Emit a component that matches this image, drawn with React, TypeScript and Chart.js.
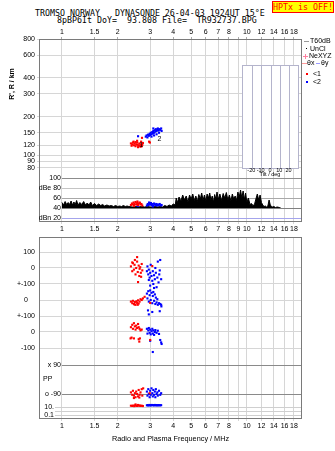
import React, { useEffect, useRef } from 'react';
import { Chart, registerables } from 'chart.js';

Chart.register(...registerables);

const SANS = "'Liberation Sans', Arial, sans-serif";
const MONO = "'DejaVu Sans Mono', monospace";

const titleLine1 = 'TROMSO NORWAY   DYNASONDE 26-04-03 1924UT 15°E';
const titleLine2 = '8pBP6It DoY=  93.808 File=  TR932737.BPG';
const statusText = 'HPTx is OFF!';

// ---------- frequency axis (MHz, log) ----------
const freqMin = 0.751;
const freqMax = 19.89;
const freqTicks = [1, 1.5, 2, 3, 4, 5, 6, 7, 8, 9, 10, 12, 14, 16, 18];
const freqLabelsTop = ['1', '1.5', '2', '3', '4', '5', '6', '7', '8', '', '10', '12', '14', '16', '18'];
const freqLabelsMid = ['1', '1.5', '2', '3', '4', '5', '6', '7', '8', '9', '10', '12', '14', '16', '18'];
const freqLabelsBottom = ['1', '1.5', '2', '3', '4', '5', '6', '7', '8', '', '10', '12', '14', '16', '18'];

// ---------- range axis (km, log) ----------
const rangeTicks = [80, 90, 100, 120, 150, 200, 300, 400, 600, 800];
const rangeMin = 30.5;
const rangeMax = 800;

// ---------- amplitude axis (dB) ----------
const dbTicks = [100, 80, 60, 40, 20];
const dbLabels = ['100', 'dBe 80', '60', '40', 'dBn 20'];
const dbLineColors = ['#8c8c8c', '#c4c4c4', '#a8a8a8', '#808080', '#a4a4ec'];
const dbMin = 12;
const dbMax = 378;

// ---------- tilt inset ----------
const insetFreq = [9.42, 18.9];
const insetRange = [80, 503];
const tiltTicks = [-20, -10, 0, 10, 20];
const tiltLabels = ['-20', '-10', '0', '10', '20'];
const tiltMin = -30;
const tiltMax = 30;

// ---------- trace <1 (red) ----------
const t1Freq = [2.36, 2.38, 2.40, 2.42, 2.44, 2.45, 2.47, 2.50, 2.50, 2.52, 2.55, 2.55, 2.57, 2.58, 2.60, 2.62, 2.65, 2.66, 2.67, 2.68, 2.70, 2.71, 2.72, 2.74, 2.96, 2.99];
const t1Range = [124, 119, 122, 126, 128, 120, 124, 118, 127, 122, 126, 130, 121, 116, 119, 124, 120, 117, 122, 128, 118, 137, 121, 125, 128, 126];
// ---------- trace <2 (blue) ----------
const t2Freq = [2.58, 2.84, 2.87, 2.90, 2.92, 2.95, 2.98, 3.00, 3.02, 3.05, 3.05, 3.08, 3.10, 3.12, 3.12, 3.15, 3.15, 3.18, 3.20, 3.22, 3.25, 3.25, 3.28, 3.30, 3.33, 3.35, 3.36, 3.40, 3.44, 3.46];
const t2Range = [141, 140, 143, 138, 145, 142, 147, 144, 150, 146, 140, 152, 148, 155, 162, 150, 143, 157, 153, 160, 155, 146, 158, 162, 156, 150, 160, 158, 162, 155];

// ---------- echo amplitudes ----------
const t1AmpFreq = [2.36, 2.39, 2.42, 2.44, 2.45, 2.47, 2.50, 2.52, 2.55, 2.56, 2.58, 2.60, 2.63, 2.64, 2.66, 2.69, 2.72];
const t1Amp = [46, 49, 47, 51, 44, 48, 52, 47, 50, 53, 46, 49, 51, 50, 47, 48, 45];
const t2AmpFreq = [2.57, 2.88, 2.91, 2.94, 2.96, 2.97, 3.00, 3.03, 3.06, 3.09, 3.10, 3.12, 3.15, 3.18, 3.21, 3.24, 3.27, 3.30, 3.34, 3.38, 3.42, 3.46];
const t2Amp = [44, 45, 48, 46, 51, 49, 47, 50, 46, 48, 43, 45, 49, 47, 46, 48, 45, 47, 46, 48, 45, 46];

// ---------- noise level ----------
const noiseFreq = [
  1.00, 1.02, 1.04, 1.06, 1.08, 1.10, 1.12, 1.14, 1.16, 1.18, 1.20, 1.22,
  1.25, 1.28, 1.31, 1.34, 1.37, 1.40, 1.43, 1.46,
  1.50, 1.54, 1.58, 1.62, 1.66,
  1.70, 1.75, 1.80, 1.85, 1.90, 1.95, 2.00, 2.05, 2.10, 2.15, 2.20, 2.25, 2.30,
  2.40, 2.50, 2.60, 2.70, 2.80, 2.90, 3.00, 3.10, 3.20, 3.30, 3.40, 3.50,
  3.60, 3.70, 3.80, 3.90, 4.00, 4.10,
  4.15, 4.20,
  4.30, 4.40, 4.50, 4.60, 4.70, 4.80, 4.90, 5.00, 5.10, 5.20, 5.30, 5.40, 5.50, 5.60, 5.70, 5.80, 5.90, 6.00, 6.10, 6.20, 6.30, 6.40, 6.50, 6.60, 6.70, 6.80, 6.90, 7.00,
  7.15, 7.30, 7.45, 7.60, 7.75, 7.90, 8.05, 8.20, 8.35, 8.50, 8.65, 8.80, 8.95, 9.10, 9.25, 9.40, 9.55, 9.70, 9.85,
  10.0, 10.2, 10.4, 10.6, 10.8, 11.0, 11.2, 11.4, 11.6, 11.8, 12.0, 12.2, 12.4, 12.6, 12.8, 13.0, 13.2, 13.4, 13.6, 13.8,
  14.0, 14.3, 14.6, 15.0, 15.2,
];
const noiseDb = [
  51, 46, 53, 47, 51, 47, 54, 46, 52, 47, 55, 46,
  51, 47, 53, 46, 50, 46, 52, 45,
  49, 45, 48, 45, 47,
  44, 46, 44, 45, 43, 45, 43, 44, 43, 45, 43, 44, 43,
  42, 43, 42, 43, 42, 43, 42, 42, 43, 42, 43, 42,
  45, 43, 46, 44, 48, 46,
  60, 50,
  62, 54, 66, 56, 64, 52, 66, 58, 68, 55, 64, 53, 67, 58, 70, 56, 66, 54, 68, 60, 70, 56, 64, 52, 67, 58, 72, 57,
  68, 55, 69, 60, 71, 56, 66, 54, 68, 58, 64, 55, 72, 62, 76, 60, 74, 57, 70,
  52, 60, 47, 49, 45, 47, 58, 68, 56, 66, 51, 46, 43, 44, 42, 44, 56, 46, 43, 42,
  43, 41, 42, 41, 41,
];
const noiseFloor = 40;

// ---------- lower panel axes ----------
const vMin = -943.75, vMax = 193.75;
const vTicks = [100, 0];
const vLabels = ['100', '0'];
const ylMin = -743.75, ylMax = 393.75;
const ylTicks = [100, 0, -100];
const ylLabels = ['+-100', '0', '+-100'];
const ylLabelX = [35, 28, 35];
const xlMin = -543.75, xlMax = 593.75;
const xlTicks = [0, -100];
const xlLabels = ['0', '-100'];
const ppMin = -245.2, ppMax = 884.5;
const ppTicks = [90, -90];
const ppLabels = ['x 90', 'o -90'];
const epMin = 0.01501, epMax = 1e41;
const epTicks = [10, 1, 0.1];
const epLabels = ['10.', '', '0.1'];

// ---------- V* (m/s) ----------
const v1Freq = [2.36, 2.40, 2.40, 2.42, 2.45, 2.47, 2.48, 2.50, 2.52, 2.55, 2.55, 2.57, 2.58, 2.60, 2.62, 2.63, 2.65, 2.67, 2.68, 2.70, 2.72, 3.08];
const v1Val = [10, -20, 35, 30, -10, 20, 50, -40, 0, 40, 68, -25, -88, 15, -50, -5, 5, -30, -55, 25, -15, 12];
const v2Freq = [2.88, 2.90, 2.93, 2.95, 2.95, 2.98, 3.00, 3.00, 3.02, 3.05, 3.08, 3.10, 3.12, 3.15, 3.15, 3.18, 3.20, 3.22, 3.25, 3.28, 3.30, 3.33, 3.36, 3.38, 3.40, 3.44];
const v2Val = [-20, 10, -40, -10, -75, -60, -30, -110, 20, -50, -80, -20, -100, -45, -125, -70, 0, -30, -120, -60, 40, -90, -40, -15, 50, -70];

// ---------- YL (km) ----------
const yl1Freq = [2.36, 2.40, 2.42, 2.45, 2.47, 2.48, 2.50, 2.53, 2.55, 2.57, 2.58, 2.60, 2.63, 2.66, 2.70, 2.74, 2.80, 3.00];
const yl1Val = [-10, -20, -5, -25, -28, -12, -30, -8, -18, -30, -2, -22, -10, 5, 0, 10, 20, -18];
const yl2Freq = [2.88, 2.90, 2.92, 2.93, 2.95, 2.95, 2.98, 3.00, 3.02, 3.05, 3.08, 3.08, 3.10, 3.12, 3.15, 3.18, 3.20, 3.22, 3.25, 3.28, 3.30, 3.35, 3.38, 3.40, 3.44, 3.45];
const yl2Val = [40, 10, -65, 55, -10, -90, 30, 60, 0, 45, -20, -75, 25, 50, -5, 35, -25, 15, -15, 5, -30, -20, -70, -25, -30, -40];

// ---------- XL (km) ----------
const xl1Freq = [2.35, 2.36, 2.38, 2.40, 2.42, 2.45, 2.45, 2.48, 2.50, 2.52, 2.55, 2.58, 2.60, 2.60, 2.62, 2.63, 2.64, 2.66, 2.70, 3.00];
const xl1Val = [-40, 30, -35, 45, 20, 55, -40, 35, 15, 40, 25, 50, 30, -45, -60, 20, -40, 10, 15, -50];
const xl2Freq = [2.88, 2.90, 2.93, 2.95, 2.98, 3.00, 3.00, 3.02, 3.05, 3.08, 3.10, 3.10, 3.12, 3.15, 3.18, 3.20, 3.25, 3.30, 3.35, 3.40, 3.44, 3.46];
const xl2Val = [20, -10, 10, 25, -5, 15, -55, -15, 5, 20, -10, -125, 10, -18, 0, 12, -5, 8, -12, -50, -65, -75];

// ---------- PP (deg) ----------
const pp1Freq = [2.36, 2.40, 2.42, 2.45, 2.45, 2.48, 2.50, 2.52, 2.55, 2.58, 2.60, 2.62, 2.63, 2.66, 2.70, 2.72, 2.75, 2.98];
const pp1Val = [-80, -95, -70, -100, -115, -85, -110, -75, -90, -105, -65, -112, -95, -80, -60, -100, -55, -85];
const pp2Freq = [2.88, 2.90, 2.93, 2.95, 2.98, 3.00, 3.02, 3.05, 3.08, 3.10, 3.12, 3.15, 3.18, 3.20, 3.22, 3.25, 3.28, 3.30, 3.35, 3.40, 3.44];
const pp2Val = [-75, -100, -60, -90, -110, -70, -95, -55, -85, -105, -65, -95, -75, -110, -60, -90, -80, -100, -70, -95, -85];

// ---------- EP (deg) ----------
const ep1Freq = [2.36, 2.40, 2.43, 2.46, 2.49, 2.50, 2.52, 2.55, 2.58, 2.61, 2.64, 2.67, 2.70, 2.74];
const ep1Val = [20, 18, 22, 16, 25, 40, 20, 18, 30, 20, 22, 18, 20, 17];
const ep2Freq = [2.88, 2.91, 2.94, 2.97, 3.00, 3.03, 3.06, 3.09, 3.12, 3.15, 3.18, 3.21, 3.24, 3.27, 3.30, 3.33, 3.36, 3.40, 3.44];
const ep2Val = [25, 28, 22, 30, 26, 24, 30, 28, 25, 26, 30, 24, 28, 26, 25, 28, 26, 25, 27];

const RED = '#ff0000';
const BLUE = '#0000ff';
const GRID = '#d6d6d6';
const FRAME = '#7a7a7a';

const pts = (xs: number[], ys: number[]) => xs.map((x, i) => ({ x, y: ys[i] }));

const dots = (xs: number[], ys: number[], color: string, yAxisID: string) => ({
  type: 'scatter',
  data: pts(xs, ys),
  xAxisID: 'x',
  yAxisID,
  backgroundColor: color,
  borderColor: color,
  borderWidth: 0,
  pointStyle: 'rect',
  pointRadius: 1.5,
  showLine: false,
  order: 1,
});

const tickFont = { family: SANS, size: 7 };

const freqAxis = (position: string, labels: string[], h: number, onArea: boolean) => ({
  type: 'logarithmic',
  position,
  min: freqMin,
  max: freqMax,
  afterBuildTicks: (s: any) => {
    s.ticks = freqTicks.map((v) => ({ value: v }));
  },
  afterFit: (s: any) => {
    s.height = h;
  },
  grid: { drawOnChartArea: onArea, drawTicks: true, tickLength: 2, color: onArea ? GRID : '#aaaaaa' },
  border: { display: false },
  ticks: {
    autoSkip: false,
    maxRotation: 0,
    minRotation: 0,
    padding: 1,
    color: '#000',
    font: tickFont,
    callback: (_v: any, i: number) => labels[i],
  },
});

function hline(ctx: any, x0: number, x1: number, y: number) {
  ctx.beginPath();
  ctx.moveTo(x0, y);
  ctx.lineTo(x1, y);
  ctx.stroke();
}
function vline(ctx: any, x: number, y0: number, y1: number) {
  ctx.beginPath();
  ctx.moveTo(x, y0);
  ctx.lineTo(x, y1);
  ctx.stroke();
}
function vtext(ctx: any, text: string, x: number, y: number, font: string) {
  ctx.save();
  ctx.translate(x, y);
  ctx.rotate(-Math.PI / 2);
  ctx.font = font;
  ctx.textAlign = 'center';
  ctx.textBaseline = 'middle';
  ctx.fillStyle = '#000';
  ctx.fillText(text, 0, 0);
  ctx.restore();
}
function frame(ctx: any, a: any) {
  ctx.save();
  ctx.strokeStyle = FRAME;
  ctx.lineWidth = 1;
  ctx.strokeRect(a.left + 0.5, a.top + 0.5, a.right - a.left - 1, a.bottom - a.top - 1);
  ctx.restore();
}

const upperDecor = {
  id: 'upperDecor',
  beforeDatasetsDraw(chart: any) {
    const { ctx, chartArea: a, scales } = chart;
    const sx = scales.x;
    const sr = scales.yR;
    const sd = scales.yD;
    ctx.save();
    ctx.lineWidth = 1;
    const x1 = sx.getPixelForValue(1);
    dbTicks.forEach((v, i) => {
      const y = Math.round(sd.getPixelForValue(v)) + 0.5;
      ctx.strokeStyle = dbLineColors[i];
      hline(ctx, x1, a.right, y);
    });
    // tilt inset
    const bx0 = Math.round(sx.getPixelForValue(insetFreq[0])) + 0.5;
    const bx1 = Math.round(sx.getPixelForValue(insetFreq[1])) + 0.5;
    const by0 = Math.round(sr.getPixelForValue(insetRange[1])) + 0.5;
    const by1 = Math.round(sr.getPixelForValue(insetRange[0])) + 0.5;
    ctx.fillStyle = '#fff';
    ctx.fillRect(bx0, by0, bx1 - bx0, by1 - by0);
    ctx.strokeStyle = '#b4b4cc';
    ctx.strokeRect(bx0, by0, bx1 - bx0, by1 - by0);
    const tp = (t: number) => bx0 + ((t - tiltMin) / (tiltMax - tiltMin)) * (bx1 - bx0);
    tiltTicks.forEach((t) => vline(ctx, Math.round(tp(t)) + 0.5, by0, by1));
    ctx.restore();
  },
  afterDraw(chart: any) {
    const { ctx, chartArea: a, scales } = chart;
    const sx = scales.x;
    const sr = scales.yR;
    const sd = scales.yD;
    frame(ctx, a);
    ctx.save();
    ctx.fillStyle = '#000';
    ctx.font = `7px ${SANS}`;
    ctx.textBaseline = 'middle';
    // dB labels inside the frame
    const x1 = sx.getPixelForValue(1);
    ctx.textAlign = 'right';
    dbTicks.forEach((v, i) => {
      ctx.fillText(dbLabels[i], x1 - 1, sd.getPixelForValue(v));
    });
    // tilt inset labels
    const bx0 = sx.getPixelForValue(insetFreq[0]);
    const bx1 = sx.getPixelForValue(insetFreq[1]);
    const by1 = sr.getPixelForValue(insetRange[0]);
    const tp = (t: number) => bx0 + ((t - tiltMin) / (tiltMax - tiltMin)) * (bx1 - bx0);
    ctx.font = `5.5px ${SANS}`;
    ctx.textAlign = 'center';
    tiltTicks.forEach((t, i) => ctx.fillText(tiltLabels[i], tp(t), by1 + 3));
    ctx.fillText('Tilt / deg', (bx0 + bx1) / 2, by1 + 7);
    // trace labels
    ctx.font = `7px ${SANS}`;
    ctx.fillText('1', sx.getPixelForValue(2.68), sr.getPixelForValue(120.5));
    ctx.fillText('2', sx.getPixelForValue(3.37), sr.getPixelForValue(134));
    // legend
    const lx = a.right;
    ctx.textAlign = 'left';
    ctx.lineWidth = 1;
    ctx.strokeStyle = '#999';
    hline(ctx, lx + 2, lx + 7, 41.5);
    ctx.fillText('T60dB', lx + 8, 41);
    ctx.fillRect(lx + 4, 48, 1, 1);
    ctx.fillText('UnCl', lx + 8, 49);
    ctx.strokeStyle = '#ff80a0';
    hline(ctx, lx + 1, lx + 6, 56.5);
    vline(ctx, lx + 3.5, 54, 59);
    ctx.fillText('NeXYZ', lx + 7, 56);
    ctx.strokeStyle = '#ff9a9a';
    hline(ctx, lx, lx + 5, 63.5);
    ctx.fillText('θx', lx + 5, 63);
    ctx.strokeStyle = '#9a9aff';
    hline(ctx, lx + 14, lx + 18, 63.5);
    ctx.fillText('θy', lx + 19, 63);
    ctx.fillStyle = RED;
    ctx.fillRect(lx + 4, 73, 2, 2);
    ctx.fillStyle = BLUE;
    ctx.fillRect(lx + 4, 81, 2, 2);
    ctx.fillStyle = '#000';
    ctx.fillText('<1', lx + 11, 74.5);
    ctx.fillText('<2', lx + 11, 82);
    ctx.restore();
    vtext(ctx, "R', R / km", 12.5, 84, `bold 7px ${SANS}`);
  },
};

const lowerDecor = {
  id: 'lowerDecor',
  beforeDatasetsDraw(chart: any) {
    const { ctx, chartArea: a, scales } = chart;
    ctx.save();
    ctx.lineWidth = 1;
    const x1 = scales.x.getPixelForValue(1);
    ctx.strokeStyle = '#8a8a8a';
    ppTicks.forEach((v) => hline(ctx, x1, a.right, Math.round(scales.yPP.getPixelForValue(v)) + 0.5));
    ctx.strokeStyle = '#cfcfcf';
    epTicks.forEach((v) => hline(ctx, a.left + 16, a.right, Math.round(scales.yEP.getPixelForValue(v)) + 0.5));
    ctx.restore();
  },
  afterDraw(chart: any) {
    const { ctx, chartArea: a, scales } = chart;
    frame(ctx, a);
    ctx.save();
    ctx.fillStyle = '#000';
    ctx.font = `7px ${SANS}`;
    ctx.textBaseline = 'middle';
    ctx.textAlign = 'right';
    vTicks.forEach((v, i) => ctx.fillText(vLabels[i], a.left - 4, scales.yV.getPixelForValue(v)));
    ylTicks.forEach((v, i) => ctx.fillText(ylLabels[i], ylLabelX[i], scales.yYL.getPixelForValue(v)));
    xlTicks.forEach((v, i) => ctx.fillText(xlLabels[i], a.left - 4, scales.yXL.getPixelForValue(v)));
    const x1 = scales.x.getPixelForValue(1);
    ppTicks.forEach((v, i) => ctx.fillText(ppLabels[i], x1 - 1, scales.yPP.getPixelForValue(v)));
    epTicks.forEach((v, i) => ctx.fillText(epLabels[i], a.left + 15, scales.yEP.getPixelForValue(v)));
    ctx.textAlign = 'left';
    ctx.fillText('PP', a.left + 4, scales.yPP.getPixelForValue(0));
    ctx.textAlign = 'center';
    ctx.font = `7.3px ${SANS}`;
    ctx.fillText('Radio and Plasma Frequency / MHz', (a.left + a.right) / 2, a.bottom + 20);
    ctx.restore();
    // rotated axis titles
    ctx.save();
    ctx.translate(12.5, 277);
    ctx.rotate(-Math.PI / 2);
    ctx.fillStyle = '#000';
    ctx.textBaseline = 'middle';
    ctx.textAlign = 'left';
    ctx.font = `bold 7px ${SANS}`;
    ctx.fillText('V*', 0, 0);
    const w = ctx.measureText('V*').width;
    ctx.font = `6px ${SANS}`;
    ctx.fillText('m/s', w + 4, 0);
    ctx.restore();
    vtext(ctx, 'YL', 13, 299, `bold 7px ${SANS}`);
    vtext(ctx, 'km', 9.5, 315, `6px ${SANS}`);
    vtext(ctx, 'XL', 9.5, 333, `bold 7px ${SANS}`);
    vtext(ctx, 'EP / deg', 15, 398, `6.5px ${SANS}`);
  },
};

function upperConfig(): any {
  return {
    type: 'scatter',
    data: {
      datasets: [
        dots(t1Freq, t1Range, RED, 'yR'),
        dots(t2Freq, t2Range, BLUE, 'yR'),
        dots(t1AmpFreq, t1Amp, RED, 'yD'),
        dots(t2AmpFreq, t2Amp, BLUE, 'yD'),
        {
          type: 'scatter',
          data: pts(noiseFreq, noiseDb),
          xAxisID: 'x',
          yAxisID: 'yD',
          showLine: true,
          borderColor: '#000',
          borderWidth: 1,
          backgroundColor: '#000',
          pointRadius: 0,
          fill: { value: noiseFloor },
          tension: 0,
          order: 10,
        },
      ],
    },
    options: {
      animation: false,
      responsive: false,
      devicePixelRatio: 1,
      events: [],
      layout: { padding: { left: 0, right: 33, top: 0, bottom: 0 } },
      plugins: { legend: { display: false }, tooltip: { enabled: false } },
      scales: {
        xTop: freqAxis('top', freqLabelsTop, 39, false),
        x: freqAxis('bottom', freqLabelsMid, 14, true),
        yR: {
          type: 'logarithmic',
          position: 'left',
          min: rangeMin,
          max: rangeMax,
          afterBuildTicks: (s: any) => {
            s.ticks = rangeTicks.map((v) => ({ value: v }));
          },
          afterFit: (s: any) => {
            s.width = 39;
          },
          grid: { color: GRID, drawTicks: true, tickLength: 2 },
          border: { display: false },
          ticks: {
            autoSkip: false,
            padding: 2,
            color: '#000',
            font: tickFont,
            callback: (v: any) => String(v),
          },
        },
        yD: { type: 'linear', display: false, min: dbMin, max: dbMax },
      },
    },
    plugins: [upperDecor],
  };
}

const linAxis = (min: number, max: number, ticks: number[], w: number) => ({
  type: 'linear',
  position: 'left',
  min,
  max,
  afterBuildTicks: (s: any) => {
    s.ticks = ticks.map((v) => ({ value: v }));
  },
  afterFit: (s: any) => {
    s.width = w;
  },
  grid: { color: GRID, drawTicks: false },
  border: { display: false },
  ticks: { display: false },
});

function lowerConfig(): any {
  return {
    type: 'scatter',
    data: {
      datasets: [
        dots(v1Freq, v1Val, RED, 'yV'),
        dots(v2Freq, v2Val, BLUE, 'yV'),
        dots(yl1Freq, yl1Val, RED, 'yYL'),
        dots(yl2Freq, yl2Val, BLUE, 'yYL'),
        dots(xl1Freq, xl1Val, RED, 'yXL'),
        dots(xl2Freq, xl2Val, BLUE, 'yXL'),
        dots(pp1Freq, pp1Val, RED, 'yPP'),
        dots(pp2Freq, pp2Val, BLUE, 'yPP'),
        dots(ep1Freq, ep1Val, RED, 'yEP'),
        dots(ep2Freq, ep2Val, BLUE, 'yEP'),
      ],
    },
    options: {
      animation: false,
      responsive: false,
      devicePixelRatio: 1,
      events: [],
      layout: { padding: { left: 0, right: 33, top: 5, bottom: 0 } },
      plugins: { legend: { display: false }, tooltip: { enabled: false } },
      scales: {
        x: freqAxis('bottom', freqLabelsBottom, 32, true),
        yV: linAxis(vMin, vMax, vTicks, 39),
        yYL: linAxis(ylMin, ylMax, ylTicks, 0),
        yXL: linAxis(xlMin, xlMax, xlTicks, 0),
        yPP: { type: 'linear', display: false, min: ppMin, max: ppMax },
        yEP: { type: 'logarithmic', display: false, min: epMin, max: epMax },
      },
    },
    plugins: [lowerDecor],
  };
}

export default function App() {
  const topRef = useRef<HTMLCanvasElement>(null);
  const botRef = useRef<HTMLCanvasElement>(null);

  useEffect(() => {
    const c1 = new Chart(topRef.current as HTMLCanvasElement, upperConfig());
    const c2 = new Chart(botRef.current as HTMLCanvasElement, lowerConfig());
    return () => {
      c1.destroy();
      c2.destroy();
    };
  }, []);

  const mono = `8.3px ${MONO}`;
  return (
    <div style={{ position: 'absolute', left: 0, top: 0, width: 335, height: 451, background: '#fff', overflow: 'hidden' }}>
      <div style={{ position: 'absolute', left: 35, top: 7.5, font: mono, lineHeight: '10px', whiteSpace: 'pre', color: '#000' }}>
        {titleLine1}
      </div>
      <div style={{ position: 'absolute', left: 57, top: 15.2, font: mono, lineHeight: '10px', whiteSpace: 'pre', color: '#000' }}>
        {titleLine2}
      </div>
      <div
        style={{
          position: 'absolute',
          left: 272,
          top: 1,
          width: 60,
          height: 10,
          border: '1px solid #ff0000',
          background: '#ffff00',
          color: '#ff0000',
          font: mono,
          lineHeight: '10px',
          textAlign: 'center',
          whiteSpace: 'pre',
          overflow: 'hidden',
        }}
      >
        {statusText}
      </div>
      <canvas ref={topRef} width={335} height={236} style={{ position: 'absolute', left: 0, top: 0, width: 335, height: 236 }} />
      <canvas ref={botRef} width={335} height={219} style={{ position: 'absolute', left: 0, top: 232, width: 335, height: 219 }} />
    </div>
  );
}
